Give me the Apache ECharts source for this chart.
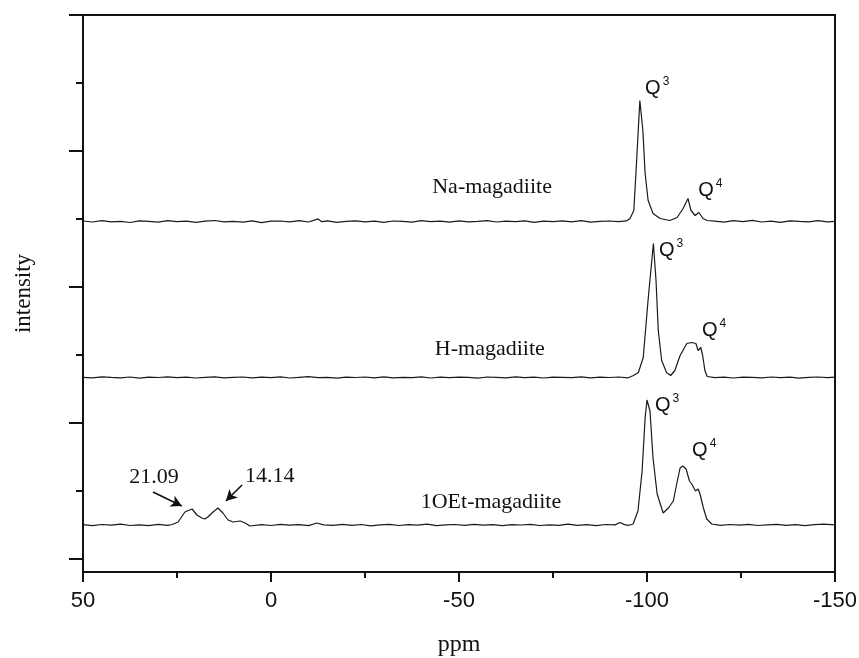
<!DOCTYPE html>
<html><head><meta charset="utf-8">
<script src="https://cdn.jsdelivr.net/npm/echarts@6/dist/echarts.min.js"></script>
<style>html,body{margin:0;padding:0;background:#fff}#c{width:859px;height:658px}</style>
</head><body><div id="c"></div>
<script>
// x-axis ticks (ppm)
const xTicks = [50, 0, -50, -100, -150];
// spectrum names and their vertical offsets (arbitrary intensity units)
const seriesNames = ['Na-magadiite', 'H-magadiite', '1OEt-magadiite'];
const baselines = [337.5, 181.5, 34];

// [ppm, intensity above baseline]
const naMagadiite = [[50,0.5],[47.5,-0.5],[45,0.8],[42.5,-0.3],[40,0.2],[37.5,-1.0],[35,0.6],[32.5,0.1],[30,-0.7],[27.5,0.9],[25,-0.2],[22.5,0.4],[20,-0.9],[17.5,0.3],[15,1.0],[12.5,-0.4],[10,0.2],[7.5,-0.6],[5,0.7],[2.5,-1.1],[0,0.3],[-2.5,0.5],[-5,-0.3],[-7.5,0.8],[-10,-0.5],[-12.5,2.6],[-13.5,-0.2],[-15,0.6],[-17.5,-0.8],[-20,0.1],[-22.5,0.7],[-25,-0.4],[-27.5,0.3],[-30,-0.9],[-32.5,0.5],[-35,0.2],[-37.5,-0.6],[-40,0.9],[-42.5,-0.1],[-45,0.4],[-47.5,-0.7],[-50,0.6],[-52.5,-0.3],[-55,0.1],[-57.5,0.8],[-60,-0.5],[-62.5,0.3],[-65,-0.2],[-67.5,0.7],[-70,-0.8],[-72.5,0.4],[-75,-0.1],[-77.5,0.6],[-80,-0.4],[-82.5,0.9],[-85,-0.6],[-87.5,0.2],[-90,0.5],[-92.5,-0.2],[-94.5,0.6],
  [-95.5,3],[-96.5,11],[-97.2,58],[-98.1,121],[-98.9,91],[-99.5,48],[-100.3,21],[-101.6,8],[-103.5,3],[-106.1,1],[-108.0,4],[-109.6,13],[-110.9,23],[-111.7,11],[-112.8,6],[-113.8,9],[-114.9,3],[-116.0,1],
  [-118,0.3],[-120.5,-0.6],[-123,0.8],[-125.5,-0.2],[-128,1.2],[-130.5,-0.5],[-133,0.4],[-135.5,-0.9],[-138,0.7],[-140.5,0.1],[-143,-0.4],[-145.5,0.9],[-148,-0.3],[-150,0.2]];

const hMagadiite = [[50,0.2],[47.5,-0.4],[45,0.6],[42.5,0.1],[40,-0.3],[37.5,0.5],[35,-0.6],[32.5,0.3],[30,0.0],[27.5,0.7],[25,-0.2],[22.5,0.4],[20,-0.5],[17.5,0.2],[15,0.6],[12.5,-0.3],[10,0.1],[7.5,0.5],[5,-0.4],[2.5,0.3],[0,-0.1],[-2.5,0.6],[-5,-0.5],[-7.5,0.2],[-10,0.8],[-12.5,-0.2],[-15,0.1],[-17.5,-0.6],[-20,0.4],[-22.5,0.0],[-25,0.5],[-27.5,-0.3],[-30,0.7],[-32.5,-0.4],[-35,0.2],[-37.5,-0.1],[-40,0.6],[-42.5,-0.5],[-45,0.3],[-47.5,-0.2],[-50,0.4],[-52.5,0.1],[-55,-0.6],[-57.5,0.5],[-60,0.2],[-62.5,-0.3],[-65,0.6],[-67.5,-0.1],[-70,0.3],[-72.5,-0.5],[-75,0.4],[-77.5,0.1],[-80,-0.2],[-82.5,0.7],[-85,-0.4],[-87.5,0.3],[-90,0.0],[-92.5,0.5],[-95,-0.3],
  [-96.4,2],[-97.7,5],[-99.0,20],[-100.3,78],[-101.7,134],[-102.4,97],[-103.0,47],[-103.9,17],[-105.2,5],[-106.3,2],[-107.4,7],[-108.8,22],[-110.6,34],[-111.9,35],[-113.0,34],[-113.6,27],[-114.3,30],[-114.8,22],[-115.4,7],[-116.0,1],
  [-118,-0.2],[-120.5,0.4],[-123,-0.5],[-125.5,0.3],[-128,0.1],[-130.5,-0.4],[-133,0.5],[-135.5,-0.2],[-138,0.3],[-140.5,-0.6],[-143,0.2],[-145.5,0.5],[-148,-0.1],[-150,0.3]];

const oetMagadiite = [[50,0.3],[47.5,-0.6],[45,0.5],[42.5,-0.2],[40,0.8],[37.5,-0.5],[35,0.1],[32.5,-0.7],[30,0.6],[27.5,-0.3],
  [26.3,0.5],[24.7,3],[22.9,13],[21.0,16],[19.7,10],[18.4,7],[17.6,6],[16.8,8],[15.4,13],[14.1,17],[12.8,12],[11.4,5],[10.1,3],[8.2,4],[6.9,2],[5.6,-1],
  [2.5,0.4],[0,-0.5],[-2.5,0.6],[-5,-0.2],[-7.5,0.3],[-10,-0.6],[-12.2,2],[-14,0.2],[-16.5,-0.4],[-19,0.7],[-21.5,-0.3],[-24,0.5],[-26.5,-0.8],[-29,0.2],[-31.5,0.6],[-34,-0.5],[-36.5,0.3],[-39,-0.2],[-41.5,0.8],[-44,-0.6],[-46.5,0.1],[-49,0.5],[-51.5,-0.4],[-54,0.7],[-56.5,-0.1],[-59,0.3],[-61.5,-0.7],[-64,0.4],[-66.5,0.0],[-69,0.6],[-71.5,-0.5],[-74,0.2],[-76.5,-0.3],[-79,0.8],[-81.5,-0.4],[-84,0.3],[-86.5,-0.6],[-89,0.5],[-91.5,0.1],[-92.8,2.5],[-94,0.4],[-95.2,-0.3],
  [-96.3,1],[-97.6,14],[-98.7,54],[-99.5,107],[-100.0,125],[-100.8,114],[-101.6,67],[-102.7,31],[-104.3,12],[-105.7,17],[-107.0,24],[-107.9,41],[-108.8,57],[-109.5,59],[-110.4,56],[-111.3,44],[-111.9,41],[-112.3,42],[-112.9,34],[-113.6,36],[-114.1,31],[-115.0,17],[-115.9,6],[-117.2,1],
  [-119.5,-0.4],[-122,0.5],[-124.5,-0.2],[-127,0.6],[-129.5,-0.5],[-132,0.2],[-134.5,0.7],[-137,-0.3],[-139.5,0.4],[-142,-0.6],[-144.5,0.3],[-147,0.8],[-150,0.1]];

// annotations: [ppm, intensity] in axis units
const nameLabelPos = [[-58.8, 372], [-58.2, 210], [-58.5, 57]];
const qLabels = [
  [{ sup: '3', at: [-99.5, 471] }, { sup: '4', at: [-113.6, 369] }],
  [{ sup: '3', at: [-103.2, 309] }, { sup: '4', at: [-114.6, 229] }],
  [{ sup: '3', at: [-102.1, 154] }, { sup: '4', at: [-112.0, 109] }]
];
const shiftLabels = [{ text: '21.09', at: [31.1, 82] }, { text: '14.14', at: [0.3, 83] }];
const shiftArrows = [[[31.4, 67], [23.7, 53]], [[7.7, 74], [12.0, 58]]];

const yMajorTicks = [0, 136, 272, 408, 544];
const yMinorTicks = [68, 204, 340, 476];

const spectra = [naMagadiite, hMagadiite, oetMagadiite];
const serif = 'Liberation Serif';
const sans = 'Liberation Sans';

const series = spectra.map((sp, i) => {
  const s = {
    type: 'line',
    name: seriesNames[i],
    data: sp.map(p => [p[0], p[1] + baselines[i]]),
    showSymbol: false,
    symbol: 'none',
    lineStyle: { color: '#1a1a1a', width: 1.2 },
    silent: true,
    markPoint: {
      symbol: 'circle', symbolSize: 0, silent: true,
      data: [
        { coord: nameLabelPos[i], label: { show: true, position: 'inside', formatter: seriesNames[i], fontFamily: serif, fontSize: 22, color: '#111' } }
      ].concat(qLabels[i].map(q => ({
        coord: q.at,
        label: {
          show: true, position: 'inside', align: 'left', verticalAlign: 'middle',
          formatter: '{q|Q}{s|' + q.sup + '}',
          rich: {
            q: { fontFamily: sans, fontSize: 20, color: '#111', lineHeight: 24 },
            s: { fontFamily: sans, fontSize: 12, color: '#111', verticalAlign: 'top', lineHeight: 14, padding: [0, 0, 0, 2] }
          }
        }
      })))
    }
  };
  if (i === 2) {
    s.markPoint.data = s.markPoint.data.concat(shiftLabels.map(l => ({
      coord: l.at,
      label: { show: true, position: 'inside', formatter: l.text, fontFamily: serif, fontSize: 22, color: '#111' }
    })));
    s.markLine = {
      silent: true, symbol: ['none', 'arrow'], symbolSize: [9, 11],
      lineStyle: { color: '#111', width: 1.6, type: 'solid' },
      label: { show: false },
      data: shiftArrows.map(a => [{ coord: a[0] }, { coord: a[1] }])
    };
  }
  return s;
});

const chart = echarts.init(document.getElementById('c'), null, { renderer: 'canvas' });
chart.setOption({
  animation: false,
  backgroundColor: '#fff',
  grid: { left: 83, right: 24, top: 15, bottom: 86, containLabel: false, outerBoundsMode: 'none', show: true, borderColor: '#111', borderWidth: 2, backgroundColor: 'transparent' },
  xAxis: {
    type: 'value', inverse: true, min: xTicks[xTicks.length - 1], max: xTicks[0], interval: 50,
    axisLine: { onZero: false, lineStyle: { color: '#111', width: 2 } },
    axisTick: { length: 10, lineStyle: { color: '#111', width: 2 } },
    minorTick: { show: true, splitNumber: 2, length: 6, lineStyle: { color: '#111', width: 2 } },
    splitLine: { show: false },
    axisLabel: { fontFamily: sans, fontSize: 22, color: '#111', margin: 18 },
    name: 'ppm', nameLocation: 'middle', nameGap: 61,
    nameTextStyle: { fontFamily: serif, fontSize: 24, color: '#111' }
  },
  yAxis: [{
    type: 'value', min: -13, max: 544,
    axisLine: { show: true, onZero: false, lineStyle: { color: '#111', width: 2 } },
    axisTick: { show: true, length: 14, customValues: yMajorTicks, lineStyle: { color: '#111', width: 2 } },
    axisLabel: { show: false },
    splitLine: { show: false },
    name: 'intensity', nameLocation: 'middle', nameGap: 48,
    nameTextStyle: { fontFamily: serif, fontSize: 23, color: '#111' }
  }, {
    type: 'value', min: -13, max: 544, position: 'left',
    axisLine: { show: false, onZero: false },
    axisTick: { show: true, length: 7, customValues: yMinorTicks, lineStyle: { color: '#111', width: 2 } },
    axisLabel: { show: false },
    splitLine: { show: false }
  }],
  series: series
});
</script>
</body></html>
